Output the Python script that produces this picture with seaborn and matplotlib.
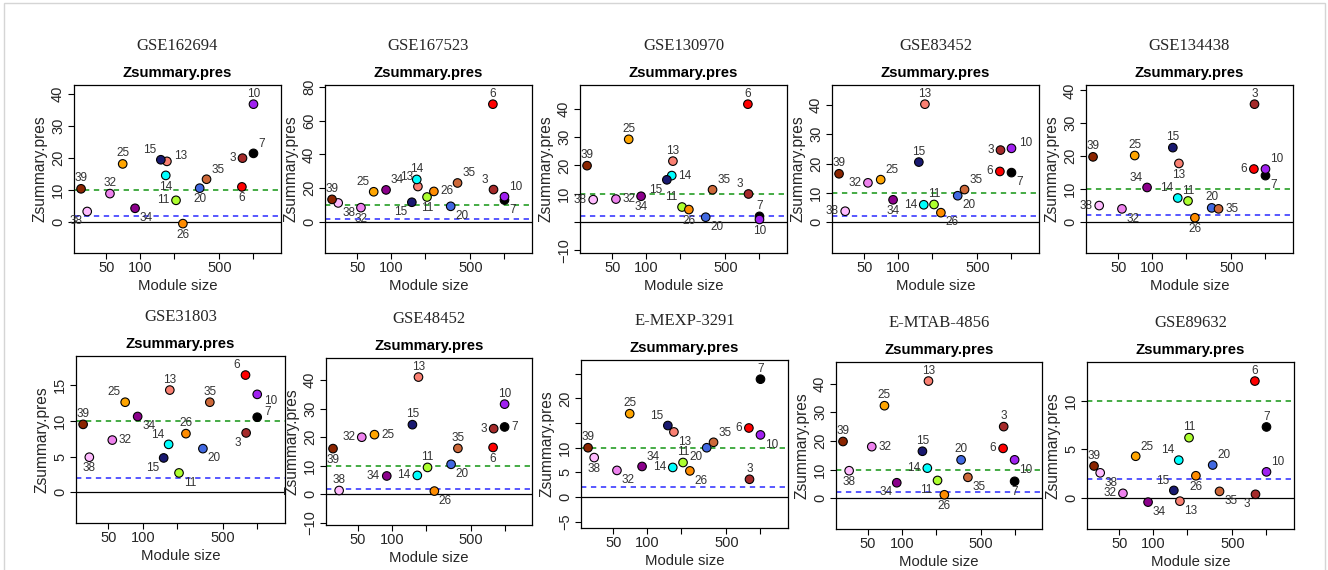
import numpy as np
import pandas as pd
import matplotlib
matplotlib.use("Agg")
import matplotlib.pyplot as plt
from matplotlib.ticker import NullLocator
from matplotlib.patches import Rectangle
import seaborn as sns

# ---------------- data ----------------
modules = [3, 6, 7, 10, 11, 13, 14, 15, 20, 25, 26, 32, 34, 35, 38, 39]
module_size = [800, 790, 1000, 1000, 207, 172, 168, 152, 335, 70, 238, 54, 90, 385, 34, 30]
module_colors = ["#A52A2A", "#FF0000", "#000000", "#A020F0", "#ADFF2F", "#FA8072",
                 "#00FFFF", "#191970", "#4169E1", "#FFA500", "#FF8C00", "#EE82EE",
                 "#8B008B", "#CD6839", "#FFBBFF", "#8B2500"]

datasets = ["GSE162694", "GSE167523", "GSE130970", "GSE83452", "GSE134438",
            "GSE31803", "GSE48452", "E-MEXP-3291", "E-MTAB-4856", "GSE89632"]

z_GSE162694 = [20.0, 11.0, 21.5, 36.9, 6.8, 19.0, 14.6, 19.5, 10.6, 18.2, -0.5, 8.9, 4.3, 13.4, 3.3, 10.4]
z_GSE167523 = [19.2, 69.7, 13.0, 15.0, 14.8, 21.0, 25.2, 11.7, 9.3, 17.9, 18.1, 8.5, 19.0, 23.1, 11.3, 13.4]
z_GSE130970 = [9.9, 41.6, 2.0, 0.9, 5.3, 21.5, 16.4, 14.9, 1.7, 29.2, 4.4, 8.1, 9.1, 11.4, 7.9, 19.9]
z_GSE83452 = [24.6, 17.3, 16.9, 25.2, 6.0, 40.3, 5.9, 20.5, 9.0, 14.5, 3.2, 13.4, 7.6, 11.1, 3.7, 16.5]
z_GSE134438 = [35.8, 16.1, 14.1, 16.1, 6.4, 17.8, 7.3, 22.6, 4.3, 20.2, 1.3, 4.0, 10.5, 4.0, 5.0, 19.8]
z_GSE31803 = [8.3, 16.4, 10.5, 13.7, 2.7, 14.3, 6.7, 4.8, 6.1, 12.6, 8.2, 7.3, 10.6, 12.6, 4.9, 9.5]
z_GSE48452 = [23.0, 16.4, 23.6, 31.6, 9.4, 41.1, 6.6, 24.4, 10.5, 20.9, 1.1, 20.0, 6.4, 16.1, 1.3, 16.0]
z_EMEXP3291 = [3.6, 14.0, 23.9, 12.6, 7.0, 13.2, 6.0, 14.5, 10.0, 16.9, 5.3, 5.4, 6.2, 11.1, 8.0, 10.0]
z_EMTAB4856 = [25.0, 17.4, 5.9, 13.4, 6.2, 40.9, 10.5, 16.4, 13.4, 32.3, 1.2, 18.0, 5.4, 7.3, 9.6, 19.8]
z_GSE89632 = [0.4, 12.0, 7.3, 2.7, 6.2, -0.3, 3.9, 0.8, 3.4, 4.3, 2.3, 0.5, -0.4, 0.7, 2.6, 3.3]

z_values = [z_GSE162694, z_GSE167523, z_GSE130970, z_GSE83452, z_GSE134438,
            z_GSE31803, z_GSE48452, z_EMEXP3291, z_EMTAB4856, z_GSE89632]

x_ticks = [50, 100, 200, 500, 1000]
x_tick_labels = ["50", "100", "", "500", ""]

y_ticks = [
    ([0, 10, 20, 30, 40], ["0", "10", "20", "30", "40"]),
    ([0, 20, 40, 60, 80], ["0", "20", "40", "60", "80"]),
    ([-10, 0, 10, 20, 30, 40], ["\u221210", "", "10", "20", "30", "40"]),
    ([0, 10, 20, 30, 40], ["0", "10", "20", "30", "40"]),
    ([0, 10, 20, 30, 40], ["0", "10", "20", "30", "40"]),
    ([0, 5, 10, 15], ["0", "5", "10", "15"]),
    ([-10, 0, 10, 20, 30, 40], ["\u221210", "0", "10", "20", "30", "40"]),
    ([-5, 0, 5, 10, 15, 20, 25], ["\u22125", "0", "5", "10", "", "20", ""]),
    ([0, 10, 20, 30, 40], ["0", "10", "20", "30", "40"]),
    ([0, 5, 10], ["0", "5", "10"]),
]

# ---------------- layout / style ----------------
label_dirs = [
    "10:u 7:ur 3:l 6:d 35:ur 20:d 26:d 11:l 14:d 13:ru 15:ul 25:u 32:u 34:dr 39:u 38:dl",
    "6:u 14:u 13:ul 34:ur 25:ul 35:ur 26:r 3:ul 10:ur 7:dr 11:d 15:dl 20:dr 39:u 38:dr 32:d",
    "6:u 25:u 39:u 13:u 14:r 15:dl 35:ur 3:ul 34:d 32:r 38:l 11:ul 26:d 20:dr 7:u 10:d",
    "13:u 15:u 10:ru 3:l 6:l 7:dr 39:u 25:ur 32:l 35:ur 20:dr 34:d 14:l 11:u 26:dr 38:l",
    "3:u 15:u 39:u 25:u 13:d 6:l 10:ur 7:dr 34:ul 14:ul 11:u 20:u 35:r 32:dr 38:l 26:d",
    "6:ul 13:u 35:u 25:ul 10:rd 7:ru 39:u 34:dr 14:ul 26:u 3:dl 32:r 20:dr 15:dl 38:d 11:dr",
    "13:u 10:u 15:u 35:u 3:l 7:r 6:d 25:r 32:l 39:d 11:u 20:dr 34:l 14:l 38:u 26:dr",
    "7:u 25:u 15:ul 13:dr 6:l 10:dr 35:ur 39:u 20:dl 11:u 38:d 34:ur 14:l 32:dr 26:dr 3:u",
    "13:u 25:u 3:u 15:u 20:u 39:u 32:r 6:l 10:dr 14:l 38:d 35:dr 34:dl 11:dl 7:d 26:d",
    "6:u 7:u 11:u 25:ur 39:u 14:ul 20:ur 10:ur 38:dr 26:d 15:ul 32:l 35:dr 3:dl 34:dr 13:dr",
]
offsets = {"u": (0, 7.5), "d": (0, -8), "l": (-9.5, 0), "r": (9.5, 0),
           "ul": (-8, 7), "ur": (8, 7), "dl": (-8, -7), "dr": (8, -7),
           "ru": (10, 4), "rd": (10, -4.5)}

# axes rectangles in pixels: left, top, right, bottom
rects = [
    (74, 85, 281, 253), (325, 85, 532, 253), (580, 85, 787, 253), (832, 85, 1039, 253), (1086, 85, 1293, 253),
    (76, 356, 285, 523), (326, 358, 532, 525), (581, 360, 788, 528), (836, 362, 1042, 529), (1087, 362, 1294, 529),
]

W, H = 1328, 570
sns.set_style("white")
plt.rcParams["font.family"] = ["Liberation Sans", "DejaVu Sans"]
plt.rcParams["axes.unicode_minus"] = True

fig = plt.figure(figsize=(W / 100, H / 100), dpi=100)
fig.patch.set_facecolor("white")

palette = {str(m): c for m, c in zip(modules, module_colors)}
text_col = "#262626"

for i, name in enumerate(datasets):
    l, t, r, b = rects[i]
    ax = fig.add_axes([l / W, 1 - b / H, (r - l) / W, (b - t) / H])
    ax.set_xscale("log")
    z = z_values[i]
    df = pd.DataFrame({"size": module_size, "z": z, "module": [str(m) for m in modules]})

    ax.axhline(0, color="black", lw=0.9, zorder=1)
    ax.axhline(2, color="#2a2aff", lw=1.1, ls=(0, (3.5, 3)), zorder=1)
    ax.axhline(10, color="#129512", lw=1.1, ls=(0, (3.5, 3)), zorder=1)

    sns.scatterplot(data=df, x="size", y="z", hue="module", palette=palette,
                    s=38, edgecolor="black", linewidth=0.8, legend=False, ax=ax, zorder=3)

    # label points
    dirs = dict(item.split(":") for item in label_dirs[i].split())
    for m, xs, ys in zip(modules, module_size, z):
        dx, dy = offsets[dirs[str(m)]]
        if m < 10:
            dx *= 0.75
        ax.annotate(str(m), (xs, ys), xytext=(dx, dy), textcoords="offset points",
                    ha="center", va="center", fontsize=8.5, color="#333333", zorder=4)

    # y range as in WGCNA tutorial
    zmax, zmin = max(z), min(z)
    if zmin > -zmax / 10:
        zmin = -zmax / 10
    lo, hi = zmin - 0.1 * (zmax - zmin), zmax + 0.1 * (zmax - zmin)
    ext = 0.04 * (hi - lo)
    ax.set_ylim(lo - ext, hi + ext)
    ax.set_xlim(26, 1750)

    ax.set_xticks(x_ticks)
    ax.set_xticklabels(x_tick_labels)
    ax.xaxis.set_minor_locator(NullLocator())
    yt, ytl = y_ticks[i]
    ax.set_yticks(yt)
    ax.set_yticklabels(ytl, rotation=90, va="center", ha="right")

    ax.tick_params(axis="both", which="major", direction="out", length=4.5, width=0.8,
                   labelsize=10.5, colors="black", labelcolor=text_col, left=True, bottom=True)
    ax.tick_params(axis="x", pad=1.5)
    ax.tick_params(axis="y", pad=2)
    for sp in ax.spines.values():
        sp.set_visible(True)
        sp.set_color("black")
        sp.set_linewidth(0.9)

    ax.set_xlabel("Module size", fontsize=10.7, color=text_col, labelpad=2.5)
    ax.set_ylabel("Zsummary.pres", fontsize=11.2, color=text_col, labelpad=2.5)
    ax.set_title("Zsummary.pres", fontsize=10.7, fontweight="bold", color="black", pad=5.5)

    fig.text((l + r) / 2 / W, 1 - (t - 39) / H, name, ha="center", va="center",
             fontsize=12, family=["Liberation Serif", "DejaVu Serif"], color=text_col)

fig.add_artist(Rectangle((4 / W, -0.01), (1325 - 4) / W, 1.01 - 3 / H, transform=fig.transFigure,
                         fill=False, ec="#d5d5d5", lw=1))

fig.savefig("out.png", dpi=100, facecolor="white")
